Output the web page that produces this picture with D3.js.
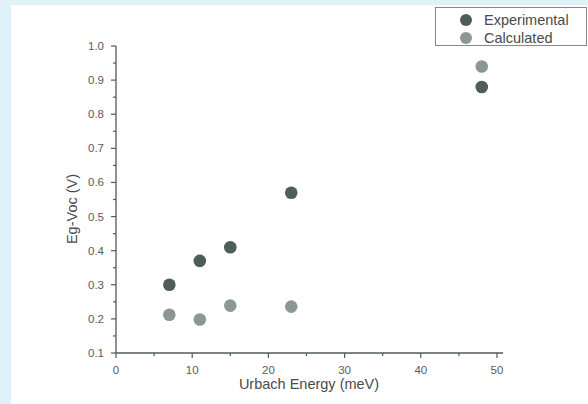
<!DOCTYPE html>
<html>
<head>
<meta charset="utf-8">
<script src="https://cdn.jsdelivr.net/npm/d3@7"></script>
<style>
  body { margin: 0; background: #dff1f9; }
  svg { display: block; font-family: "Liberation Sans", Arial, sans-serif; }
</style>
</head>
<body>
<svg id="chart" width="588" height="404"></svg>
<script>
// data
var urbach = [7, 11, 15, 23, 48];
var experimental = [0.30, 0.37, 0.41, 0.57, 0.88];
var calculated = [0.212, 0.198, 0.239, 0.236, 0.94];
var xTicks = [0, 10, 20, 30, 40, 50];
var yTicks = [0.1, 0.2, 0.3, 0.4, 0.5, 0.6, 0.7, 0.8, 0.9, 1.0];
var seriesNames = ["Experimental", "Calculated"];
var colors = ["#4e5d55", "#8b9891"];
var axisColor = "#4f5b55";

var svg = d3.select("#chart");

// white panel
svg.append("rect").attr("x", 11).attr("y", 5).attr("width", 577).attr("height", 399).attr("fill", "#fff");

var x = d3.scaleLinear().domain([0, 50]).range([116, 497]);
var y = d3.scaleLinear().domain([0.1, 1.0]).range([353, 46]);

var g = svg.append("g");

// x axis
var xAxis = g.append("g").attr("transform", "translate(0," + y(0.1) + ")");
xAxis.append("line").attr("x1", x(0)).attr("x2", x(50.8)).attr("stroke", axisColor).attr("stroke-width", 1.3);
xAxis.selectAll(".minor").data(d3.range(5, 50, 10)).enter().append("line")
  .attr("x1", function(d) { return x(d); }).attr("x2", function(d) { return x(d); })
  .attr("y1", 0).attr("y2", 3).attr("stroke", axisColor).attr("stroke-width", 1.2);
xAxis.selectAll(".major").data(xTicks).enter().append("line")
  .attr("x1", function(d) { return x(d); }).attr("x2", function(d) { return x(d); })
  .attr("y1", 0).attr("y2", 5).attr("stroke", axisColor).attr("stroke-width", 1.2);
xAxis.selectAll("text").data(xTicks).enter().append("text")
  .attr("x", function(d) { return x(d); }).attr("y", 21)
  .attr("text-anchor", "middle").attr("font-size", 11.5).attr("fill", "#5a5a5a")
  .text(function(d) { return d; });

// y axis
var yAxis = g.append("g").attr("transform", "translate(" + x(0) + ",0)");
yAxis.append("line").attr("y1", y(0.1)).attr("y2", y(1.0)).attr("stroke", axisColor).attr("stroke-width", 1.3);
yAxis.selectAll(".minor").data(d3.range(0.15, 1.0, 0.1)).enter().append("line")
  .attr("y1", function(d) { return y(d); }).attr("y2", function(d) { return y(d); })
  .attr("x1", 0).attr("x2", -3).attr("stroke", axisColor).attr("stroke-width", 1.2);
yAxis.selectAll(".major").data(yTicks).enter().append("line")
  .attr("y1", function(d) { return y(d); }).attr("y2", function(d) { return y(d); })
  .attr("x1", 0).attr("x2", -5).attr("stroke", axisColor).attr("stroke-width", 1.2);
yAxis.selectAll("text").data(yTicks).enter().append("text")
  .attr("x", -12).attr("y", function(d) { return y(d); }).attr("dy", "0.35em")
  .attr("text-anchor", "end").attr("font-size", 11.5).attr("fill", "#5a5a5a")
  .text(function(d) { return d.toFixed(1); });

// axis titles
svg.append("text").attr("x", 309).attr("y", 389).attr("text-anchor", "middle")
  .attr("font-size", 14.5).attr("fill", "#4a4a4a").text("Urbach Energy (meV)");
svg.append("text").attr("transform", "translate(77,209) rotate(-90)").attr("text-anchor", "middle")
  .attr("font-size", 14.5).attr("fill", "#4a4a4a").text("Eg-Voc (V)");

// points
var series = [experimental, calculated];
series.forEach(function(vals, s) {
  g.selectAll(".pt" + s).data(vals).enter().append("circle")
    .attr("cx", function(d, i) { return x(urbach[i]); })
    .attr("cy", function(d) { return y(d); })
    .attr("r", 6.3).attr("fill", colors[s]);
});

// legend
var legend = svg.append("g");
legend.append("rect").attr("x", 435.5).attr("y", 7.5).attr("width", 151).attr("height", 38)
  .attr("fill", "#fff").attr("stroke", "#888").attr("stroke-width", 1);
var items = legend.selectAll(".item").data(seriesNames).enter().append("g")
  .attr("transform", function(d, i) { return "translate(0," + (20 + i * 18) + ")"; });
items.append("circle").attr("cx", 466).attr("cy", 0).attr("r", 6).attr("fill", function(d, i) { return colors[i]; });
items.append("text").attr("x", 484).attr("y", 0).attr("dy", "0.35em")
  .attr("font-size", 14.5).attr("fill", "#4a4a4a").text(function(d) { return d; });
</script>
</body>
</html>
